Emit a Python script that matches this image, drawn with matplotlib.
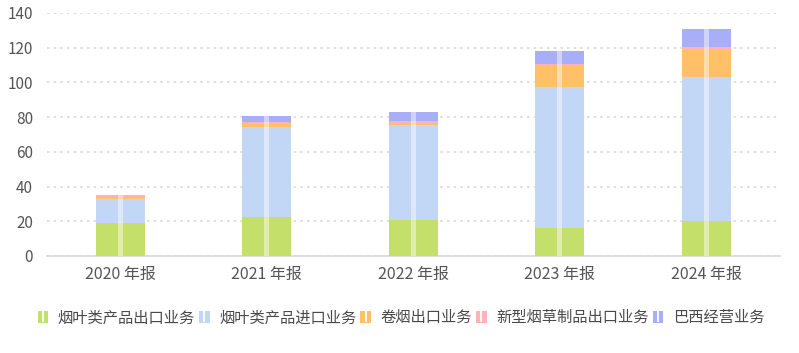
import matplotlib
matplotlib.use("Agg")
import matplotlib.pyplot as plt
from matplotlib.patches import Patch
from matplotlib.lines import Line2D
from matplotlib.legend_handler import HandlerTuple
import numpy as np

plt.rcParams['font.family'] = ['Noto Sans CJK SC', 'DejaVu Sans']

categories = ["2020 年报", "2021 年报", "2022 年报", "2023 年报", "2024 年报"]
series_names = ["烟叶类产品出口业务", "烟叶类产品进口业务", "卷烟出口业务", "新型烟草制品出口业务", "巴西经营业务"]
leaf_export = [19.2, 22.4, 20.7, 16.1, 20.1]
leaf_import = [13.4, 51.8, 54.5, 81.1, 82.9]
cigarette_export = [1.4, 1.6, 1.3, 13.1, 15.5]
new_tobacco_export = [1.3, 1.3, 1.2, 0.4, 1.8]
brazil_ops = [0.0, 3.6, 5.2, 7.3, 10.3]
colors = ["#c5df6b", "#c2d7f6", "#ffc068", "#ffb2ba", "#a8aef8"]

series = [leaf_export, leaf_import, cigarette_export, new_tobacco_export, brazil_ops]

fig = plt.figure(figsize=(7.99, 3.53), dpi=100)
ax = fig.add_axes([0.0588, 0.2748, 0.917, 0.6884])

x = np.arange(len(categories))
bw = 0.335
bottom = np.zeros(len(categories))
for vals, c in zip(series, colors):
    v = np.array(vals)
    ax.bar(x, v, bw, bottom=bottom, color=c, linewidth=0, zorder=3)
    bottom += v
# white translucent stripe in the middle of each bar
ax.bar(x, bottom, 0.033, color="white", alpha=0.45, linewidth=0, zorder=4)

ax.set_xlim(-0.5, len(categories) - 0.5)
ax.set_ylim(0, 140)
ax.set_yticks(np.arange(0, 141, 20))
ax.yaxis.grid(True, linestyle=(0, (1.5, 2.5)), color="#d9d9d9", linewidth=1.2, zorder=0)
ax.set_axisbelow(True)
for s in ["top", "right", "left"]:
    ax.spines[s].set_visible(False)
ax.spines["bottom"].set_color("#d9d9d9")
ax.spines["bottom"].set_linewidth(1.2)
ax.tick_params(axis="both", length=0, colors="#555555")
ax.tick_params(axis="y", pad=10, labelsize=11)
ax.tick_params(axis="x", pad=7, labelsize=11.5)
ax.set_xticks(x)
ax.set_xticklabels(categories)

handles = []
for c in colors:
    handles.append((Patch(facecolor=c, edgecolor="none"),
                    Line2D([], [], color="white", marker="|", markersize=9, linestyle="none", markeredgewidth=1.3)))
leg = fig.legend(handles, series_names, handler_map={tuple: HandlerTuple(ndivide=1, pad=0)},
                 loc="center left", bbox_to_anchor=(0.03, 0.1), ncol=5, frameon=False,
                 fontsize=11, handlelength=0.7, handleheight=0.9, handletextpad=0.6,
                 columnspacing=0.28, labelcolor="#4a4a4a")

fig.savefig("out.png", dpi=100)
